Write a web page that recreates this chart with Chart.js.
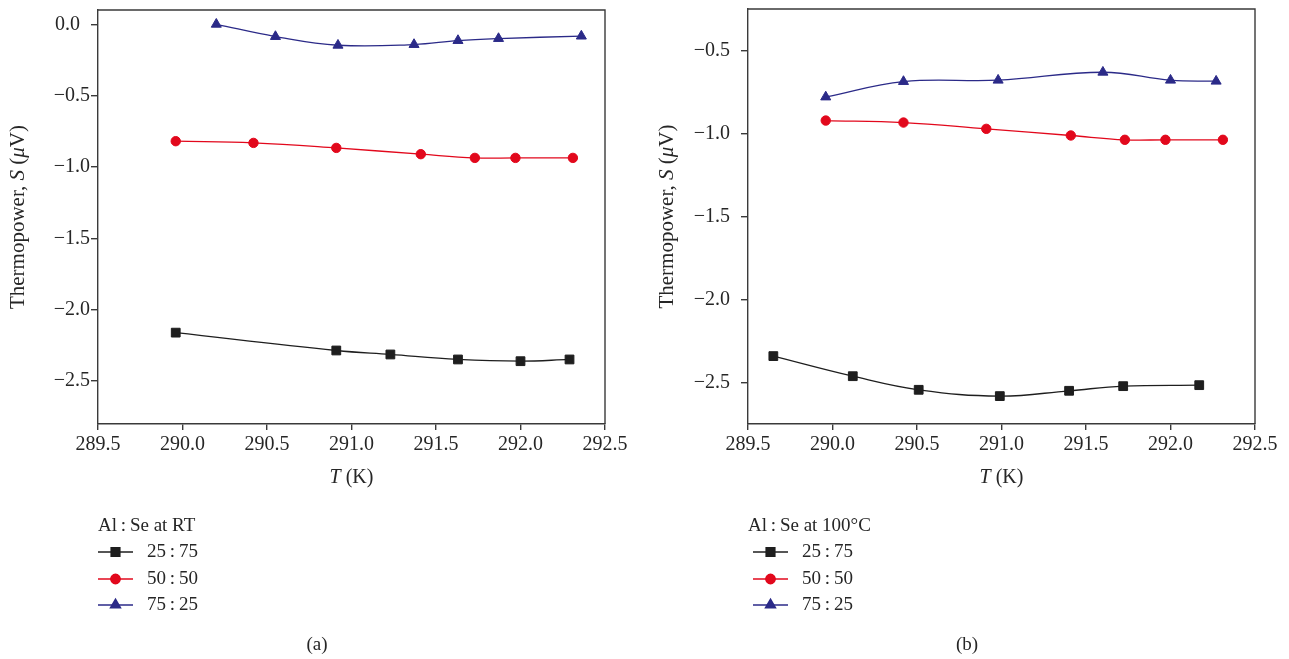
<!DOCTYPE html>
<html><head><meta charset="utf-8">
<script src="https://cdn.jsdelivr.net/npm/chart.js@4.4.0/dist/chart.umd.min.js"></script>
<style>
html,body{margin:0;padding:0;background:#fff;}
#wrap{position:relative;width:1289px;height:659px;overflow:hidden;}
canvas{position:absolute;top:0;}
</style></head><body>
<div id="wrap">
<canvas id="ca" width="640" height="659" style="left:0"></canvas>
<canvas id="cb" width="649" height="659" style="left:640px"></canvas>
</div>
<script>
// Composition labels shared by both panels
const seriesNames = ['25\u2009:\u200975', '50\u2009:\u200950', '75\u2009:\u200925'];

// Panel (a): Al:Se at RT
const tA_2575 = [289.96, 290.91, 291.23, 291.63, 292.00, 292.29];
const sA_2575 = [-2.16, -2.285, -2.313, -2.348, -2.36, -2.348];
const tA_5050 = [289.96, 290.42, 290.91, 291.41, 291.73, 291.97, 292.31];
const sA_5050 = [-0.819, -0.831, -0.866, -0.910, -0.936, -0.936, -0.936];
const tA_7525 = [290.20, 290.55, 290.92, 291.37, 291.63, 291.87, 292.36];
const sA_7525 = [0.0, -0.086, -0.147, -0.142, -0.114, -0.100, -0.083];

// Panel (b): Al:Se at 100°C
const tB_2575 = [289.65, 290.12, 290.51, 290.99, 291.40, 291.72, 292.17];
const sB_2575 = [-2.341, -2.462, -2.544, -2.582, -2.550, -2.522, -2.516];
const tB_5050 = [289.96, 290.42, 290.91, 291.41, 291.73, 291.97, 292.31];
const sB_5050 = [-0.922, -0.934, -0.972, -1.012, -1.038, -1.038, -1.038];
const tB_7525 = [289.96, 290.42, 290.98, 291.60, 292.00, 292.27];
const sB_7525 = [-0.780, -0.687, -0.679, -0.631, -0.679, -0.685];

// Axis ticks
const xTicks = [289.5, 290.0, 290.5, 291.0, 291.5, 292.0, 292.5];
const yTicksA = [0.0, -0.5, -1.0, -1.5, -2.0, -2.5];
const yTicksB = [-0.5, -1.0, -1.5, -2.0, -2.5];

const SERIF = '"Liberation Serif", "DejaVu Serif", serif';
const AXIS_COLOR = '#3a3a3a';
const TEXT_COLOR = '#262626';
const styles = [
  { color: '#1e1e1e', point: 'rect', radius: 6.2 },
  { color: '#e2081c', point: 'circle', radius: 4.7 },
  { color: '#2b2a88', point: 'triangle', radius: 5.8 }
];

function pairs(xs, ys) { return xs.map((x, i) => ({ x: x, y: ys[i] })); }
function fmt(v) {
  const s = Math.abs(v).toFixed(1);
  if (Math.abs(v) < 1e-9) return s + '\u2007';
  return v < 0 ? '\u2212' + s : s;
}

// Draws a run of text pieces with mixed upright/italic faces, centred on (0,0)
function drawRich(ctx, parts, size) {
  let total = 0;
  parts.forEach(p => {
    ctx.font = (p[1] ? 'italic ' : '') + size + 'px ' + SERIF;
    total += ctx.measureText(p[0]).width;
  });
  let x = -total / 2;
  ctx.textAlign = 'left';
  ctx.textBaseline = 'middle';
  parts.forEach(p => {
    ctx.font = (p[1] ? 'italic ' : '') + size + 'px ' + SERIF;
    ctx.fillText(p[0], x, 0);
    x += ctx.measureText(p[0]).width;
  });
}

function makeDecor(cfg) {
  return {
    id: 'decor',
    afterDraw(chart) {
      const ctx = chart.ctx;
      const a = chart.chartArea;
      ctx.save();
      // frame around the plot area
      ctx.strokeStyle = AXIS_COLOR;
      ctx.lineWidth = 1.4;
      ctx.beginPath();
      ctx.moveTo(a.left, a.top); ctx.lineTo(a.right, a.top); ctx.lineTo(a.right, a.bottom);
      ctx.stroke();

      ctx.fillStyle = TEXT_COLOR;
      // y-axis title
      ctx.save();
      ctx.translate(cfg.yTitleX, (a.top + a.bottom) / 2);
      ctx.rotate(-Math.PI / 2);
      drawRich(ctx, [['Thermopower, ', false], ['S', true], [' (', false], ['\u03bc', true], ['V)', false]], 21);
      ctx.restore();
      // x-axis title
      ctx.save();
      ctx.translate((a.left + a.right) / 2, 478);
      drawRich(ctx, [['T', true], [' (K)', false]], 20);
      ctx.restore();

      // legend
      ctx.textAlign = 'left';
      ctx.textBaseline = 'middle';
      ctx.font = '19px ' + SERIF;
      ctx.fillText(cfg.legendTitle, cfg.legendX, 526);
      const rows = [552, 579, 605];
      styles.forEach((s, i) => {
        const y = rows[i];
        ctx.strokeStyle = s.color;
        ctx.lineWidth = 1.4;
        ctx.beginPath();
        ctx.moveTo(cfg.sampleX0, y); ctx.lineTo(cfg.sampleX1, y);
        ctx.stroke();
        ctx.fillStyle = s.color;
        Chart.helpers.drawPoint(ctx, { pointStyle: s.point, radius: s.radius, borderWidth: 1, rotation: 0 },
          (cfg.sampleX0 + cfg.sampleX1) / 2, y);
        ctx.fill();
        ctx.fillStyle = TEXT_COLOR;
        ctx.font = '19px ' + SERIF;
        ctx.fillText(seriesNames[i], cfg.textX, y);
      });
      // panel label
      ctx.textAlign = 'center';
      ctx.fillText(cfg.panel, cfg.panelX, 645);
      ctx.restore();
    }
  };
}

function build(id, data, yMin, yMax, yTicks, opts) {
  const datasets = data.map((d, i) => ({
    label: seriesNames[i],
    data: pairs(d[0], d[1]),
    showLine: true,
    borderColor: styles[i].color,
    backgroundColor: styles[i].color,
    borderWidth: 1.3,
    pointStyle: styles[i].point,
    pointRadius: styles[i].radius,
    pointHoverRadius: styles[i].radius,
    pointBorderWidth: 1,
    tension: 0.4
  }));
  return new Chart(document.getElementById(id), {
    type: 'scatter',
    data: { datasets: datasets },
    options: {
      responsive: false,
      animation: false,
      events: [],
      layout: { padding: { left: 0, top: opts.top, right: opts.right, bottom: 175 } },
      plugins: { legend: { display: false }, tooltip: { enabled: false } },
      scales: {
        x: {
          type: 'linear', min: 289.5, max: 292.5,
          afterBuildTicks: s => { s.ticks = xTicks.map(v => ({ value: v })); },
          afterFit: s => { s.height = 60; s.paddingLeft = 0; s.paddingRight = 0; },
          grid: { drawOnChartArea: false, drawTicks: true, tickLength: 6, color: AXIS_COLOR, lineWidth: 1.4 },
          border: { display: true, color: AXIS_COLOR, width: 1.4 },
          ticks: { color: TEXT_COLOR, font: { family: SERIF, size: 20 }, padding: 3, maxRotation: 0,
                   callback: v => v.toFixed(1) }
        },
        y: {
          type: 'linear', min: yMin, max: yMax,
          afterBuildTicks: s => { s.ticks = yTicks.map(v => ({ value: v })); },
          afterFit: s => { s.width = opts.yWidth; s.paddingTop = 0; s.paddingBottom = 0; },
          grid: { drawOnChartArea: false, drawTicks: true, tickLength: 7, color: AXIS_COLOR, lineWidth: 1.4 },
          border: { display: true, color: AXIS_COLOR, width: 1.4 },
          ticks: { color: TEXT_COLOR, font: { family: SERIF, size: 20 }, padding: opts.yPad, callback: v => fmt(v) }
        }
      }
    },
    plugins: [makeDecor(opts)]
  });
}

build('ca', [[tA_2575, sA_2575], [tA_5050, sA_5050], [tA_7525, sA_7525]], -2.8, 0.1, yTicksA,
  { top: 10, right: 35, yWidth: 98, yPad: 1, yTitleX: 18, legendTitle: 'Al\u2009:\u2009Se at RT', legendX: 98,
    sampleX0: 98, sampleX1: 133, textX: 147, panel: '(a)', panelX: 317 });
build('cb', [[tB_2575, sB_2575], [tB_5050, sB_5050], [tB_7525, sB_7525]], -2.75, -0.25, yTicksB,
  { top: 9, right: 34, yWidth: 108, yPad: 11, yTitleX: 27, legendTitle: 'Al\u2009:\u2009Se at 100\u00b0C', legendX: 108,
    sampleX0: 113, sampleX1: 148, textX: 162, panel: '(b)', panelX: 327 });
</script>
</body></html>
